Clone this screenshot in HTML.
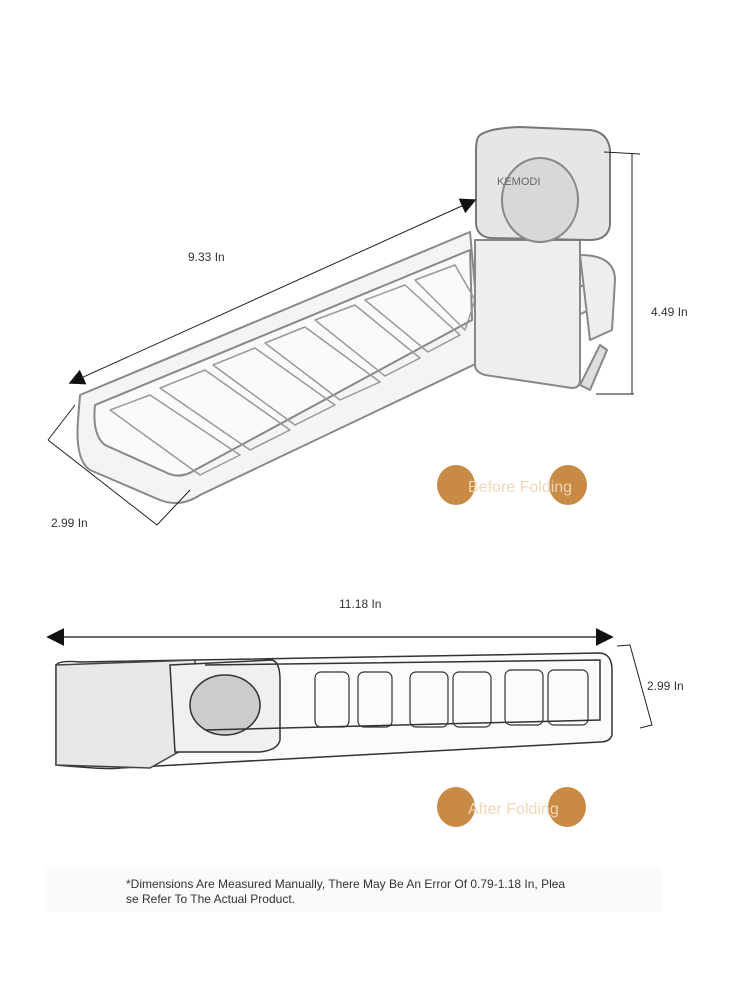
<!DOCTYPE html>
<html><head><style>
html,body{margin:0;padding:0;background:#fff;}
body{width:750px;height:1000px;position:relative;overflow:hidden;font-family:"Liberation Sans",sans-serif;}
svg{position:absolute;left:0;top:0;}
.t{font-family:"Liberation Sans",sans-serif;font-size:12px;fill:#333;}
</style></head><body>
<svg width="750" height="1000" viewBox="0 0 750 1000">
<defs>
<marker id="ah" viewBox="0 0 10 10" refX="9" refY="5" markerUnits="userSpaceOnUse" markerWidth="16" markerHeight="16" orient="auto-start-reverse"><path d="M0,0 L10,5 L0,10z" fill="#111"/></marker>
<marker id="ah2" viewBox="0 0 10 10" refX="9" refY="5" markerUnits="userSpaceOnUse" markerWidth="18" markerHeight="18" orient="auto-start-reverse"><path d="M0,0 L10,5 L0,10z" fill="#111"/></marker>
</defs>
<rect x="46" y="868" width="616" height="44" fill="#fafafa"/>
<!-- top tray -->
<g fill="none" stroke="#888" stroke-width="2" stroke-linejoin="round">
<path d="M80,395 L470,232 L478,320 L600,280 L610,300 L200,495 Q180,508 160,500 L90,470 Q75,460 78,420 Z" fill="#f4f4f4"/>
<path d="M95,405 L470,250 L472,320 L195,470 Q180,480 165,472 L105,445 Q92,435 95,405 Z" fill="#fafafa"/>
<g stroke="#999" stroke-width="1.5">
<path d="M110,410 L150,395 L240,455 L200,475 Z"/>
<path d="M160,388 L205,370 L290,430 L250,450 Z"/>
<path d="M213,365 L255,348 L335,405 L295,425 Z"/>
<path d="M265,343 L305,327 L380,382 L340,400 Z"/>
<path d="M315,320 L355,305 L420,358 L385,376 Z"/>
<path d="M365,300 L405,285 L460,335 L428,352 Z"/>
<path d="M415,280 L455,265 L475,300 L465,330 Z"/>
</g>
<path d="M475,240 L580,240 L580,380 Q580,388 572,388 L485,375 Q475,372 475,365 Z" fill="#eee"/>
<path d="M480,135 Q490,128 520,127 L590,130 Q608,132 610,150 L610,225 Q608,240 590,240 L490,238 Q476,236 476,222 L476,150 Q476,138 480,135 Z" fill="#e6e6e6" stroke="#777"/>
<ellipse cx="540" cy="200" rx="38" ry="42" fill="#d8d8d8" stroke="#888"/>
<path d="M580,255 Q615,255 615,280 L612,330 L590,340 Z" fill="#eee"/>
<path d="M580,385 L600,345 L607,350 L590,390 Z" fill="#ddd"/>
</g>
<text x="497" y="185" font-size="11" fill="#666" font-family="Liberation Sans">KEMODI</text>
<!-- dims top -->
<line x1="70" y1="383" x2="475" y2="200" stroke="#222" stroke-width="1" marker-start="url(#ah)" marker-end="url(#ah)"/>
<line x1="632" y1="154" x2="632" y2="394" stroke="#222" stroke-width="1"/>
<line x1="604" y1="152" x2="640" y2="154" stroke="#222"/><line x1="596" y1="394" x2="634" y2="394" stroke="#222"/>
<line x1="48" y1="440" x2="157" y2="525" stroke="#222"/><line x1="48" y1="440" x2="75" y2="405" stroke="#222"/><line x1="157" y1="525" x2="190" y2="490" stroke="#222"/>
<text class="t" x="188" y="261">9.33 In</text>
<text class="t" x="651" y="316">4.49 In</text>
<text class="t" x="51" y="527">2.99 In</text>
<!-- bottom -->
<line x1="48" y1="637" x2="612" y2="637" stroke="#111" stroke-width="1.3" marker-start="url(#ah2)" marker-end="url(#ah2)"/>
<text class="t" x="339" y="608">11.18 In</text>
<g fill="none" stroke="#333" stroke-width="1.5">
<path d="M56,665 Q60,660 80,662 L600,653 Q612,654 612,670 L612,735 Q610,742 600,742 L120,768 Q110,770 56,765 Z" fill="#fbfbfb"/>
<path d="M56,665 L195,660 L200,740 L150,768 L56,765 Z" fill="#e8e8e8" stroke="#444"/>
<path d="M170,665 L272,660 Q280,662 280,680 L280,740 Q278,750 260,752 L175,752 Z" fill="#f0f0f0"/>
<ellipse cx="225" cy="705" rx="35" ry="30" fill="#ccc"/>
<path d="M205,665 L600,660 L600,720 L205,730" />
<g stroke-width="1.2">
<rect x="315" y="672" width="34" height="55" rx="6"/>
<rect x="358" y="672" width="34" height="55" rx="6"/>
<rect x="410" y="672" width="38" height="55" rx="6"/>
<rect x="453" y="672" width="38" height="55" rx="6"/>
<rect x="505" y="670" width="38" height="55" rx="6"/>
<rect x="548" y="670" width="40" height="55" rx="6"/>
</g>
</g>
<path d="M617,646 L630,645 L652,725 L640,728" fill="none" stroke="#222"/>
<text class="t" x="647" y="690">2.99 In</text>
<!-- orange dots -->
<g fill="#c98a45">
<ellipse cx="456" cy="485" rx="19" ry="20"/><ellipse cx="568" cy="485" rx="19" ry="20"/>
<ellipse cx="456" cy="807" rx="19" ry="20"/><ellipse cx="567" cy="807" rx="19" ry="20"/>
</g>
<text x="468" y="492" font-size="16" fill="#f0d7b8" font-family="Liberation Sans">Before Folding</text>
<text x="468" y="814" font-size="16" fill="#f0d7b8" font-family="Liberation Sans">After Folding</text>
<text class="t" x="126" y="888">*Dimensions Are Measured Manually, There May Be An Error Of 0.79-1.18 In, Plea</text>
<text class="t" x="126" y="903">se Refer To The Actual Product.</text>
</svg>
</body></html>
